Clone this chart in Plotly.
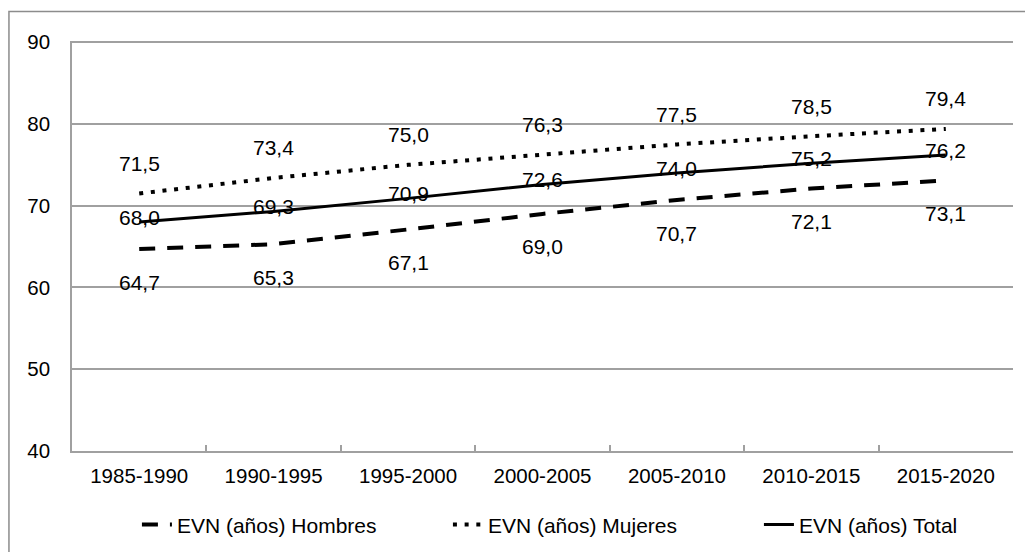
import plotly.graph_objects as go

categories = ["1985-1990", "1990-1995", "1995-2000", "2000-2005", "2005-2010", "2010-2015", "2015-2020"]
hombres = [64.7, 65.3, 67.1, 69.0, 70.7, 72.1, 73.1]
mujeres = [71.5, 73.4, 75.0, 76.3, 77.5, 78.5, 79.4]
total = [68.0, 69.3, 70.9, 72.6, 74.0, 75.2, 76.2]
y_ticks = [40, 50, 60, 70, 80, 90]

FONT = "Liberation Sans, Arial, sans-serif"
FS = 21
FS_TICK = 20.5

fig = go.Figure()
fig.add_trace(go.Scatter(x=categories, y=hombres, mode="lines", name="EVN (años) Hombres",
                         line=dict(color="black", width=4, dash="16px,12px")))
fig.add_trace(go.Scatter(x=categories, y=mujeres, mode="lines", name="EVN (años) Mujeres",
                         line=dict(color="black", width=4, dash="4px,7.7px")))
fig.add_trace(go.Scatter(x=categories, y=total, mode="lines", name="EVN (años) Total",
                         line=dict(color="black", width=3)))

def fmt(v):
    return f"{v:.1f}".replace(".", ",")

for series, shift in ((hombres, -33), (mujeres, 30), (total, 5)):
    for c, v in zip(categories, series):
        fig.add_annotation(x=c, y=v, text=fmt(v), showarrow=False, yshift=shift,
                           font=dict(family=FONT, size=FS, color="black"))

# outer chart border
fig.add_shape(type="rect", xref="paper", yref="paper", x0=-0.067, x1=1.03, y0=-0.3, y1=1.072,
              line=dict(color="#8c8c8c", width=1.5), fillcolor="rgba(0,0,0,0)", layer="below")

fig.update_layout(
    width=1025, height=552,
    margin=dict(l=72, r=12, t=41, b=101, autoexpand=False),
    paper_bgcolor="white", plot_bgcolor="white",
    font=dict(family=FONT, size=FS, color="black"),
    showlegend=True,
    legend=dict(orientation="h", x=0.069, xanchor="left", y=-0.18, yanchor="middle",
                font=dict(family=FONT, size=FS, color="black"),
                entrywidth=266, entrywidthmode="pixels",
                traceorder="normal"),
    xaxis=dict(type="category", showline=True, linecolor="#a0a0a0", linewidth=1.5,
               showgrid=False, ticks="inside", ticklen=6, tickcolor="#a0a0a0", tickwidth=1.5,
               tickson="boundaries", ticklabelstandoff=6, range=[-0.5, 6.5],
               tickfont=dict(size=FS_TICK)),
    yaxis=dict(range=[40, 90.15], tickvals=y_ticks, showline=True, linecolor="#a0a0a0", linewidth=1.5,
               showgrid=True, gridcolor="#a0a0a0", gridwidth=1.5, ticks="", zeroline=False,
               ticklabelstandoff=16, tickfont=dict(size=FS_TICK)),
)

fig.write_html("out.html")
